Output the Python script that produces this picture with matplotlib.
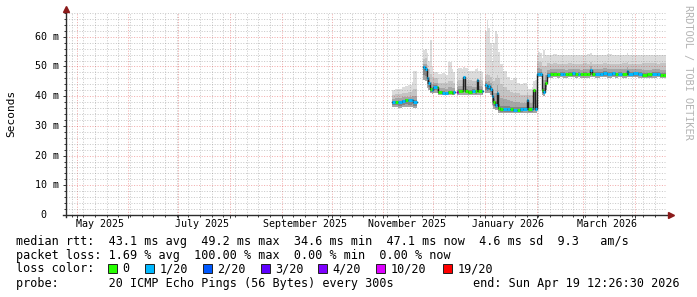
import matplotlib
matplotlib.use("Agg")
import matplotlib.pyplot as plt
import matplotlib.dates as mdates
from matplotlib.patches import Rectangle
import numpy as np
import pandas as pd

nan = np.nan

# graph window (rrdtool: 360 days ending at "end")
t_end = pd.Timestamp("2026-04-19 12:26:30")
t_start = t_end - pd.Timedelta(days=360)

# smokeping samples: date, median, smoke bottom, dense smoke top, smoke max (ms), lost pings of 20
dates = ["2025-11-06", "2025-11-08", "2025-11-10", "2025-11-12", "2025-11-14", "2025-11-16",
         "2025-11-18", "2025-11-19", "2025-11-21",
         "2025-11-25", "2025-11-26", "2025-11-27", "2025-11-28", "2025-11-29", "2025-11-30",
         "2025-12-01", "2025-12-03", "2025-12-04", "2025-12-06", "2025-12-08", "2025-12-10",
         "2025-12-12", "2025-12-13", "2025-12-14",
         "2025-12-15", "2025-12-16", "2025-12-18", "2025-12-19", "2025-12-20", "2025-12-22",
         "2025-12-24", "2025-12-26", "2025-12-27", "2025-12-28", "2025-12-30", "2025-12-31",
         "2026-01-01", "2026-01-02", "2026-01-03", "2026-01-04", "2026-01-05", "2026-01-06",
         "2026-01-07", "2026-01-08", "2026-01-09", "2026-01-10", "2026-01-12", "2026-01-14",
         "2026-01-16", "2026-01-18", "2026-01-20", "2026-01-22", "2026-01-24", "2026-01-26",
         "2026-01-27", "2026-01-29", "2026-01-30", "2026-01-31",
         "2026-02-01", "2026-02-02", "2026-02-03", "2026-02-04", "2026-02-05", "2026-02-06",
         "2026-02-07", "2026-02-09", "2026-02-11", "2026-02-13", "2026-02-15", "2026-02-17",
         "2026-02-18", "2026-02-20", "2026-02-22", "2026-02-24", "2026-02-26", "2026-02-27",
         "2026-03-01", "2026-03-03", "2026-03-05", "2026-03-06", "2026-03-08", "2026-03-11",
         "2026-03-13", "2026-03-15", "2026-03-18", "2026-03-20", "2026-03-22", "2026-03-24",
         "2026-03-27", "2026-03-28", "2026-03-31", "2026-04-03", "2026-04-05", "2026-04-08",
         "2026-04-11", "2026-04-14", "2026-04-16", "2026-04-18", "2026-04-19 12:26:30"]

median = [38.0, 38.1, 38.0, 38.4, 38.8, 38.6, 38.7, 38.1, nan,
          49.7, 49.3, 46.2, 44.4, 42.4, 42.0,
          43.2, 43.0, 41.3, 41.2, 41.0, 41.3, 41.2, 41.4, nan,
          41.5, 41.8, 41.9, 46.6, 41.8, 41.5, 41.8, 41.6, 45.5, 41.7, 41.6, nan,
          43.8, 42.8, 43.5, 42.5, 40.0, 38.1, 37.0, 41.0, 36.0, 35.6, 35.6, 35.8,
          35.6, 35.5, 35.4, 35.6, 35.7, 38.7, 35.6, 35.6, 42.0, 35.8,
          47.6, 47.6, 47.5, 42.0, 41.5, 44.5, 47.2, 47.5, 47.6, 47.4, 47.6, 47.5,
          47.3, 47.5, 47.7, 47.4, 47.6, 47.3, 47.5, 47.4, 48.8, 47.6, 47.5, 47.6,
          47.8, 47.5, 47.7, 47.4, 47.6, 47.3, 48.5, 47.6, 47.7, 47.5, 47.2, 47.3,
          47.5, 47.6, 47.2, 47.1, nan]

smoke_lo = [36.3, 36.2, 36.1, 36.2, 36.3, 36.2, 36.3, 36.0, nan,
            45.5, 45.0, 42.8, 42.0, 41.0, 40.8,
            41.2, 41.0, 40.4, 40.4, 40.3, 40.4, 40.4, 40.4, nan,
            40.4, 40.5, 40.5, 40.5, 40.5, 40.4, 40.5, 40.4, 40.5, 40.4, 40.4, nan,
            41.0, 41.0, 41.0, 40.5, 37.0, 35.8, 35.3, 35.3, 34.5, 34.3, 34.2, 34.2,
            34.3, 34.2, 34.2, 34.2, 34.3, 34.3, 34.2, 34.3, 34.3, 34.5,
            46.3, 46.3, 46.3, 40.5, 40.0, 42.0, 46.0, 46.2, 46.3, 46.2, 46.3, 46.2,
            46.2, 46.3, 46.3, 46.2, 46.3, 46.2, 46.2, 46.2, 46.5, 46.3, 46.2, 46.3,
            46.3, 46.2, 46.3, 46.2, 46.3, 46.2, 46.5, 46.3, 46.3, 46.2, 46.0, 46.1,
            46.2, 46.3, 46.1, 46.0, nan]

smoke_q = [40.5, 40.6, 40.8, 41.0, 41.2, 41.4, 41.8, 42.5, nan,
           52.5, 53.0, 50.5, 49.0, 47.5, 46.5,
           46.0, 46.0, 44.5, 44.5, 44.5, 45.0, 45.0, 44.5, nan,
           45.0, 45.5, 45.5, 46.0, 45.5, 45.5, 45.0, 45.0, 46.0, 45.5, 45.0, nan,
           47.0, 47.5, 47.0, 46.5, 45.0, 45.0, 46.0, 47.0, 46.0, 44.0, 43.0, 42.0,
           41.5, 41.0, 41.0, 40.5, 40.5, 41.0, 40.5, 40.5, 42.0, 42.0,
           51.5, 51.5, 51.5, 50.0, 50.0, 50.0, 51.0, 51.0, 51.2, 51.0, 51.0, 51.0,
           51.0, 51.2, 51.0, 51.0, 51.0, 51.0, 51.2, 51.0, 51.5, 51.0, 51.0, 51.0,
           51.2, 51.0, 51.0, 51.0, 51.0, 51.2, 51.5, 51.0, 51.0, 51.0, 51.0, 51.0,
           51.2, 51.0, 51.0, 51.0, nan]

smoke_hi = [42.0, 42.3, 42.5, 43.0, 43.4, 43.6, 44.8, 48.6, nan,
            55.5, 56.0, 54.5, 52.0, 59.0, 50.0,
            48.2, 48.3, 47.5, 47.8, 47.0, 51.6, 49.0, 48.0, nan,
            49.0, 49.5, 49.0, 49.9, 49.5, 48.5, 48.5, 49.0, 49.5, 48.5, 48.0, nan,
            62.0, 65.6, 63.0, 58.0, 52.0, 58.0, 62.0, 61.0, 55.0, 51.0, 48.5, 46.5,
            45.5, 46.0, 44.5, 44.0, 44.5, 43.5, 42.5, 43.0, 45.0, 45.5,
            54.0, 55.0, 54.5, 53.0, 55.5, 54.0, 54.0, 54.0, 54.2, 54.0, 54.0, 53.8,
            54.0, 54.0, 53.8, 54.0, 54.0, 53.8, 54.0, 54.2, 54.5, 54.0, 54.0, 53.8,
            54.0, 54.2, 54.0, 53.8, 54.0, 54.0, 54.5, 54.0, 54.0, 53.8, 54.0, 54.0,
            54.0, 53.8, 54.0, 54.0, nan]

loss = [1, 0, 1, 1, 0, 1, 1, 1, 0,
        1, 1, 1, 1, 0, 1,
        1, 0, 0, 1, 1, 0, 0, 1, 0,
        10, 0, 0, 1, 0, 0, 1, 0, 1, 0, 1, 0,
        1, 1, 1, 1, 1, 0, 1, 1, 0, 0, 1, 1,
        0, 1, 0, 1, 1, 1, 0, 1, 0, 1,
        1, 1, 1, 0, 1, 0, 1, 0, 0, 0, 1, 1,
        0, 0, 1, 0, 1, 0, 0, 0, 1, 0, 1, 1,
        1, 1, 1, 0, 1, 0, 1, 1, 1, 1, 0, 0,
        1, 1, 0, 0, 0]

loss_steps = [0, 1, 2, 3, 4, 10, 19]
loss_labels = ["0", "1/20", "2/20", "3/20", "4/20", "10/20", "19/20"]
loss_colors = ["#26ff00", "#00b8ff", "#0059ff", "#5e00ff", "#7e00ff", "#dd00ff", "#ff0000"]

legend_lines = [
    "median rtt:  43.1 ms avg  49.2 ms max  34.6 ms min  47.1 ms now  4.6 ms sd  9.3   am/s",
    "packet loss: 1.69 % avg  100.00 % max  0.00 % min  0.00 % now",
]
probe_text = "probe:       20 ICMP Echo Pings (56 Bytes) every 300s"
end_text = "end: Sun Apr 19 12:26:30 2026"

MONO = "DejaVu Sans Mono"
W, H = 697, 297

x = mdates.date2num(pd.to_datetime(dates, format="mixed"))
med = np.array(median)
lo = np.array(smoke_lo)
qh = np.array(smoke_q)
hi = np.array(smoke_hi)
widths = np.diff(x)
xs, med_s, lo_s, qh_s, hi_s = x[:-1], med[:-1], lo[:-1], qh[:-1], hi[:-1]

fig = plt.figure(figsize=(W / 100, H / 100), dpi=100)
ax = fig.add_axes([66 / W, (H - 215) / H, 600 / W, 202 / H])
ax.set_xlim(mdates.date2num(t_start), mdates.date2num(t_end))
ax.set_ylim(0, 68)
for s in ax.spines.values():
    s.set_visible(False)

# smoke: stacked grey shades, darker towards the median
kw = dict(align="edge", linewidth=0, antialiased=False, zorder=1)
ax.bar(xs, hi_s - lo_s, widths, bottom=lo_s, color="#dcdcdc", **kw)
ax.bar(xs, qh_s - lo_s, widths, bottom=lo_s, color="#c4c4c4", **kw)
mid_top = med_s + (qh_s - med_s) * 0.45
ax.bar(xs, mid_top - lo_s, widths, bottom=lo_s, color="#a6a6a6", **kw)
core_lo = lo_s + (med_s - lo_s) * 0.4
core_hi = med_s + (qh_s - med_s) * 0.15
ax.bar(xs, core_hi - core_lo, widths, bottom=core_lo, color="#858585", **kw)

# median: dark step line, then thick segments coloured by loss class
ax.step(x, med, where="post", color="#202020", lw=1.0, zorder=3)
cls = np.searchsorted(loss_steps, np.array(loss[:-1]), side="right") - 1
for k, c in enumerate(loss_colors):
    m = (cls == k) & ~np.isnan(med_s)
    if m.any():
        ax.hlines(med_s[m], xs[m], xs[m] + widths[m], colors=c, lw=2.2, zorder=4)

# grid (dotted, semi-transparent, drawn over the smoke like rrdtool)
ax.yaxis.set_major_locator(matplotlib.ticker.MultipleLocator(10))
ax.yaxis.set_minor_locator(matplotlib.ticker.MultipleLocator(2))
ax.yaxis.set_major_formatter(matplotlib.ticker.NullFormatter())
ax.xaxis.set_major_locator(mdates.MonthLocator())
ax.xaxis.set_minor_locator(mdates.WeekdayLocator(byweekday=mdates.MO))
ax.xaxis.set_major_formatter(matplotlib.ticker.NullFormatter())
ax.set_axisbelow(False)
ax.grid(which="minor", color="#8f8f8f", alpha=0.48, lw=0.72, linestyle=(0, (1, 1.6)))
ax.grid(which="major", color="#de3030", alpha=0.4, lw=0.72, linestyle=(0, (1, 1.6)))
ax.tick_params(which="major", length=2.5, width=0.7, color="#333333", direction="out")
ax.tick_params(which="minor", length=1.5, width=0.7, color="#333333", direction="out")

# y tick labels
for v in range(0, 70, 10):
    lab = "%d m" % v if v else "0  "
    ax.text(-0.011, v, lab, transform=ax.get_yaxis_transform(), ha="right", va="center",
            family=MONO, fontsize=7.2)

# x labels every second month, centred mid-month
for d in pd.date_range("2025-05-01", "2026-03-01", freq="2MS"):
    xp = mdates.date2num(d + pd.Timedelta(days=14))
    ax.text(xp, -0.02, d.strftime("%B %Y"), transform=ax.get_xaxis_transform(),
            ha="center", va="top", family=MONO, fontsize=7.2)

# axes with arrows
ax.plot([0, 0], [-0.012, 1.02], transform=ax.transAxes, color="#2c2c2c", lw=1, clip_on=False, zorder=5)
ax.plot([-0.005, 1.005], [0, 0], transform=ax.transAxes, color="#2c2c2c", lw=1, clip_on=False, zorder=5)
ax.plot([0], [1.022], transform=ax.transAxes, marker="^", ms=4, color="#8b1a1a", clip_on=False, zorder=6)
ax.plot([1.009], [0], transform=ax.transAxes, marker=">", ms=4, color="#8b1a1a", clip_on=False, zorder=6)

fig.text(11 / W, 1 - 113 / H, "Seconds", rotation=90, ha="center", va="center",
         family=MONO, fontsize=8)
fig.text(688 / W, 1 - 5 / H, "RRDTOOL / TOBI OETIKER", rotation=270, ha="center", va="top",
         family=MONO, fontsize=7.4, color="#b4b4b4")

# legend block
for i, line in enumerate(legend_lines):
    fig.text(16 / W, 1 - (241 + 14 * i) / H, line, ha="left", va="center", family=MONO, fontsize=8.5)
fig.text(16 / W, 1 - 269 / H, "loss color:", ha="left", va="center", family=MONO, fontsize=8.5)
box_x = [108, 145, 203, 261, 318, 376, 443]
for bx, lab, c in zip(box_x, loss_labels, loss_colors):
    fig.patches.append(Rectangle((bx / W, 1 - 273 / H), 9 / W, 9 / H, transform=fig.transFigure,
                                 facecolor=c, edgecolor="#202020", lw=0.7))
    fig.text((bx + 14.5) / W, 1 - 269 / H, lab, ha="left", va="center", family=MONO, fontsize=8.5)
fig.text(16 / W, 1 - 283 / H, probe_text, ha="left", va="center", family=MONO, fontsize=8.5)
fig.text(680 / W, 1 - 283 / H, end_text, ha="right", va="center", family=MONO, fontsize=8.5)

fig.savefig("out.png", dpi=100, facecolor="white")
